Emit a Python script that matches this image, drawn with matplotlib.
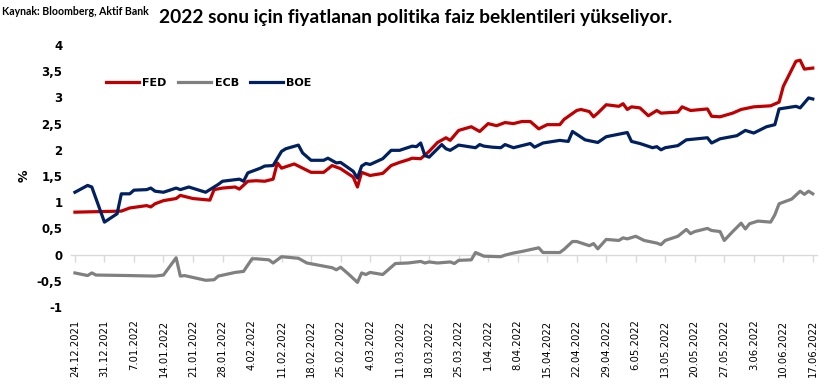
import pandas as pd
import matplotlib
matplotlib.use("Agg")
import matplotlib.pyplot as plt
from matplotlib.ticker import FuncFormatter

start = pd.Timestamp("2021-12-24")

# day offsets from 24.12.2021 and values (%)
fed_days = [0, 11, 13, 17, 18, 19, 21, 24, 25, 28, 32, 33, 35, 38, 39, 41, 43, 45, 47, 48,
            49, 52, 56, 59, 61, 63, 66, 67, 68, 70, 73, 75, 77, 79, 80, 82, 84, 86, 88, 89,
            91, 94, 96, 98, 100, 102, 104, 106, 108, 110, 112, 115, 116, 119, 120, 122, 123,
            124, 126, 129, 130, 131, 132, 134, 136, 138, 139, 143, 144, 146, 150, 151, 153,
            156, 158, 161, 165, 167, 168, 171, 172, 173, 175]
fed_vals = [0.81, 0.83, 0.89, 0.935, 0.91, 0.97, 1.03, 1.07, 1.13, 1.07, 1.04, 1.24, 1.27, 1.29,
            1.25, 1.40, 1.41, 1.40, 1.44, 1.75, 1.65, 1.73, 1.57, 1.57, 1.70, 1.64, 1.48, 1.29,
            1.57, 1.51, 1.55, 1.70, 1.76, 1.81, 1.84, 1.83, 1.97, 2.14, 2.23, 2.18, 2.37, 2.44,
            2.35, 2.50, 2.46, 2.52, 2.50, 2.54, 2.54, 2.40, 2.48, 2.48, 2.58, 2.75, 2.77, 2.73,
            2.63, 2.70, 2.86, 2.83, 2.88, 2.77, 2.82, 2.80, 2.65, 2.75, 2.70, 2.72, 2.82, 2.75,
            2.78, 2.64, 2.63, 2.70, 2.77, 2.82, 2.84, 2.91, 3.21, 3.69, 3.71, 3.54, 3.56]

ecb_days = [0, 3, 4, 5, 13, 19, 21, 24, 25, 26, 31, 33, 34, 38, 40, 42, 43, 46, 47, 49, 53,
            55, 57, 61, 62, 63, 65, 67, 68, 69, 70, 73, 76, 79, 82, 83, 84, 86, 89, 90, 91, 94,
            95, 97, 101, 102, 104, 106, 110, 111, 115, 116, 118, 119, 122, 123, 124, 126, 129,
            130, 131, 133, 135, 138, 139, 140, 143, 145, 146, 147, 150, 151, 153, 154, 156, 158,
            159, 160, 162, 165, 166, 167, 170, 172, 173, 174, 175]
ecb_vals = [-0.35, -0.40, -0.35, -0.39, -0.40, -0.41, -0.39, -0.06, -0.41, -0.40, -0.49, -0.48,
            -0.41, -0.34, -0.32, -0.08, -0.08, -0.10, -0.16, -0.04, -0.07, -0.16, -0.19, -0.25,
            -0.29, -0.24, -0.38, -0.53, -0.35, -0.38, -0.34, -0.38, -0.17, -0.16, -0.13, -0.16,
            -0.14, -0.16, -0.14, -0.17, -0.11, -0.10, 0.04, -0.03, -0.04, -0.01, 0.03, 0.06,
            0.13, 0.04, 0.04, 0.10, 0.25, 0.25, 0.17, 0.21, 0.11, 0.29, 0.27, 0.32, 0.30, 0.35,
            0.27, 0.22, 0.19, 0.27, 0.35, 0.48, 0.40, 0.44, 0.50, 0.46, 0.44, 0.27, 0.44, 0.60,
            0.49, 0.59, 0.64, 0.62, 0.76, 0.97, 1.06, 1.21, 1.15, 1.21, 1.16]

boe_days = [0, 3, 4, 7, 10, 11, 13, 14, 17, 18, 19, 21, 24, 25, 27, 31, 34, 35, 39, 40, 41,
            42, 44, 45, 47, 49, 50, 53, 54, 56, 59, 60, 62, 63, 66, 67, 68, 69, 70, 73, 75, 77,
            80, 81, 82, 83, 84, 87, 88, 89, 91, 95, 96, 97, 99, 101, 102, 104, 108, 109, 111,
            115, 117, 118, 121, 124, 126, 131, 132, 133, 134, 137, 138, 139, 140, 143, 145,
            150, 151, 153, 157, 159, 161, 164, 166, 167, 171, 172, 174, 175]
boe_vals = [1.19, 1.32, 1.29, 0.62, 0.78, 1.16, 1.16, 1.23, 1.24, 1.27, 1.21, 1.19, 1.27, 1.24,
            1.29, 1.19, 1.34, 1.40, 1.44, 1.40, 1.56, 1.59, 1.65, 1.69, 1.70, 1.97, 2.02, 2.09,
            1.94, 1.80, 1.80, 1.84, 1.75, 1.76, 1.59, 1.46, 1.69, 1.74, 1.72, 1.83, 1.99, 1.99,
            2.07, 2.06, 2.13, 1.89, 1.86, 2.10, 2.02, 1.99, 2.09, 2.04, 2.10, 2.07, 2.05, 2.04,
            2.10, 2.04, 2.12, 2.05, 2.13, 2.18, 2.16, 2.35, 2.19, 2.14, 2.25, 2.33, 2.16, 2.14,
            2.12, 2.04, 2.06, 2.00, 2.04, 2.08, 2.19, 2.23, 2.13, 2.21, 2.27, 2.37, 2.32, 2.44,
            2.48, 2.78, 2.83, 2.80, 2.99, 2.97]

tick_labels = ["24.12.2021", "31.12.2021", "7.01.2022", "14.01.2022", "21.01.2022",
               "28.01.2022", "4.02.2022", "11.02.2022", "18.02.2022", "25.02.2022",
               "4.03.2022", "11.03.2022", "18.03.2022", "25.03.2022", "1.04.2022",
               "8.04.2022", "15.04.2022", "22.04.2022", "29.04.2022", "6.05.2022",
               "13.05.2022", "20.05.2022", "27.05.2022", "3.06.2022", "10.06.2022",
               "17.06.2022"]


def to_dates(days):
    return start + pd.to_timedelta(days, unit="D")


tick_pos = to_dates([7 * i for i in range(len(tick_labels))])

fig = plt.figure(figsize=(8.32, 3.87), dpi=100)
ax = fig.add_axes([0.085, 0.2067, 0.897, 0.677])

ax.plot(to_dates(fed_days), fed_vals, color="#C00000", lw=2.3, label="FED")
ax.plot(to_dates(ecb_days), ecb_vals, color="#808080", lw=2.3, label="ECB")
ax.plot(to_dates(boe_days), boe_vals, color="#002060", lw=2.3, label="BOE")

ax.set_xlim(start - pd.Timedelta(days=1), start + pd.Timedelta(days=176))
ax.set_ylim(-1, 4)
ax.set_yticks([-1 + 0.5 * i for i in range(11)])
ax.yaxis.set_major_formatter(FuncFormatter(lambda v, p: f"{v:g}".replace(".", ",")))
ax.tick_params(axis="y", length=0, pad=6, labelsize=8.5)
for t in ax.get_yticklabels():
    t.set_fontweight("bold")

ax.set_xticks(tick_pos)
ax.set_xticklabels(tick_labels, rotation=90, fontsize=7.2)
ax.tick_params(axis="x", length=0, pad=9)

for s in ax.spines.values():
    s.set_visible(False)

# axis line at zero with outward week ticks
zero_ax = ax.secondary_xaxis(0.2)
zero_ax.set_xticks(tick_pos)
zero_ax.set_xticklabels([])
zero_ax.tick_params(axis="x", length=5, color="#D9D9D9", width=1)
zero_ax.spines["bottom"].set_color("#D9D9D9")
zero_ax.spines["bottom"].set_linewidth(1)

ax.set_ylabel("%", fontsize=9, fontweight="bold", labelpad=4)

ax.legend(loc="center", bbox_to_anchor=(0.185, 0.855), ncol=3, frameon=False,
          prop={"weight": "bold", "size": 8}, handlelength=3.0, columnspacing=1.0,
          handletextpad=0.3)

fig.text(0.5, 0.955, "2022 sonu için fiyatlanan politika faiz beklentileri yükseliyor.",
         ha="center", va="center", fontsize=13.8, fontweight="bold", family="Lato")
fig.text(0.003, 0.985, "Kaynak: Bloomberg, Aktif Bank", ha="left", va="top",
         fontsize=7.6, fontweight="bold", family="Lato")

fig.savefig("out.png", dpi=100)
